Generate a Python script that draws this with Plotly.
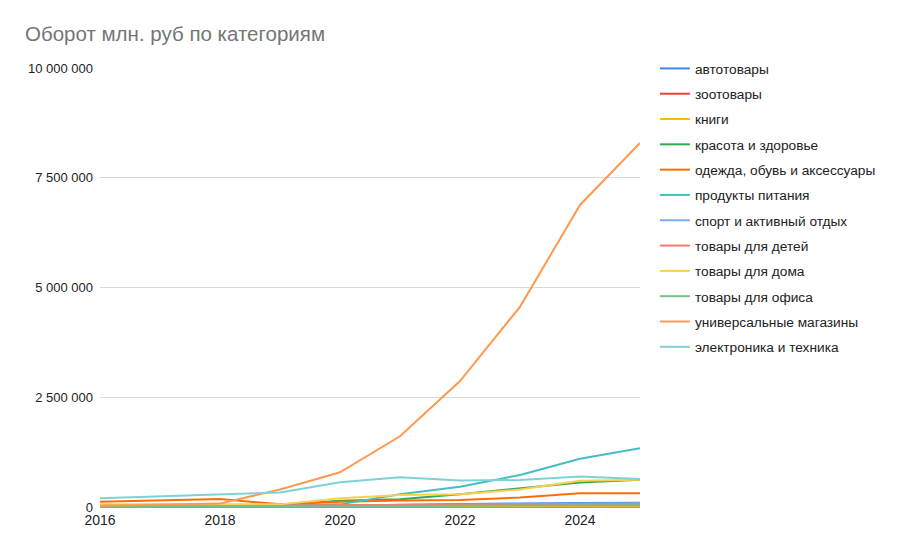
import plotly.graph_objects as go

years = [2016, 2017, 2018, 2019, 2020, 2021, 2022, 2023, 2024, 2025]

categories = [
    "автотовары", "зоотовары", "книги", "красота и здоровье",
    "одежда, обувь и аксессуары", "продукты питания", "спорт и активный отдых",
    "товары для детей", "товары для дома", "товары для офиса",
    "универсальные магазины", "электроника и техника",
]

avto = [5000, 8000, 12000, 15000, 30000, 50000, 70000, 80000, 90000, 95000]
zoo = [3000, 5000, 8000, 10000, 15000, 20000, 30000, 40000, 50000, 55000]
knigi = [10000, 12000, 15000, 15000, 18000, 20000, 20000, 22000, 25000, 25000]
krasota = [20000, 25000, 30000, 46000, 140000, 176000, 290000, 430000, 560000, 620000]
odezhda = [120000, 145000, 185000, 60000, 120000, 150000, 160000, 215000, 315000, 315000]
produkty = [15000, 18000, 22000, 30000, 60000, 290000, 460000, 730000, 1100000, 1340000]
sport = [10000, 12000, 15000, 18000, 25000, 40000, 60000, 70000, 80000, 85000]
deti = [20000, 25000, 30000, 30000, 40000, 50000, 60000, 65000, 70000, 70000]
dom = [60000, 65000, 70000, 60000, 200000, 276000, 290000, 400000, 600000, 620000]
ofis = [5000, 6000, 8000, 10000, 15000, 20000, 30000, 35000, 40000, 40000]
univer = [30000, 50000, 77000, 400000, 790000, 1610000, 2870000, 4560000, 6880000, 8290000]
elektro = [200000, 240000, 280000, 330000, 565000, 680000, 605000, 614000, 695000, 637000]

series = [avto, zoo, knigi, krasota, odezhda, produkty, sport, deti, dom, ofis, univer, elektro]

colors = ["#4285F4", "#EA4335", "#FBBC04", "#34A853", "#FF6D01", "#46BDC6",
          "#7BAAF7", "#F07B72", "#FCD04F", "#71C287", "#FF994D", "#7ED1D7"]

y_ticks = [0, 2500000, 5000000, 7500000, 10000000]
y_tick_labels = ["0", "2 500 000", "5 000 000", "7 500 000", "10 000 000"]
x_ticks = [2016, 2018, 2020, 2022, 2024]

fig = go.Figure()
for name, vals, col in zip(categories, series, colors):
    fig.add_trace(go.Scatter(
        x=years, y=vals, name=name, mode="lines",
        line=dict(color=col, width=2), legendgroup=name,
    ))

fig.update_layout(
    width=900, height=556,
    margin=dict(l=92, r=268, t=60, b=57),
    paper_bgcolor="white", plot_bgcolor="white",
    font=dict(family="Liberation Sans, Arial, sans-serif", size=13, color="#222222"),
    title=dict(text="Оборот млн. руб по категориям", x=17/900, xanchor="left",
               y=1 - 26/556, yanchor="middle",
               font=dict(size=20.5, color="#757575")),
    showlegend=True,
    legend=dict(x=1.035 - 4/540, y=1 + 15/439, xanchor="left", yanchor="top",
                tracegroupgap=4.5, itemwidth=30, maxheight=480,
                font=dict(size=13.7, color="#222222")),
    xaxis=dict(range=[2016, 2025], tickvals=x_ticks, showgrid=False,
               zeroline=False, showline=False, ticks="",
               ticklabelstandoff=3,
               tickfont=dict(size=14, color="#222222")),
    yaxis=dict(range=[0, 10000000], tickvals=y_ticks, ticktext=y_tick_labels,
               showgrid=True, gridcolor="#d9d9d9", zeroline=True,
               zerolinecolor="#9e9e9e", zerolinewidth=1, ticks="",
               ticklabelstandoff=6,
               tickfont=dict(size=13, color="#222222")),
)

fig.write_html("out.html")
